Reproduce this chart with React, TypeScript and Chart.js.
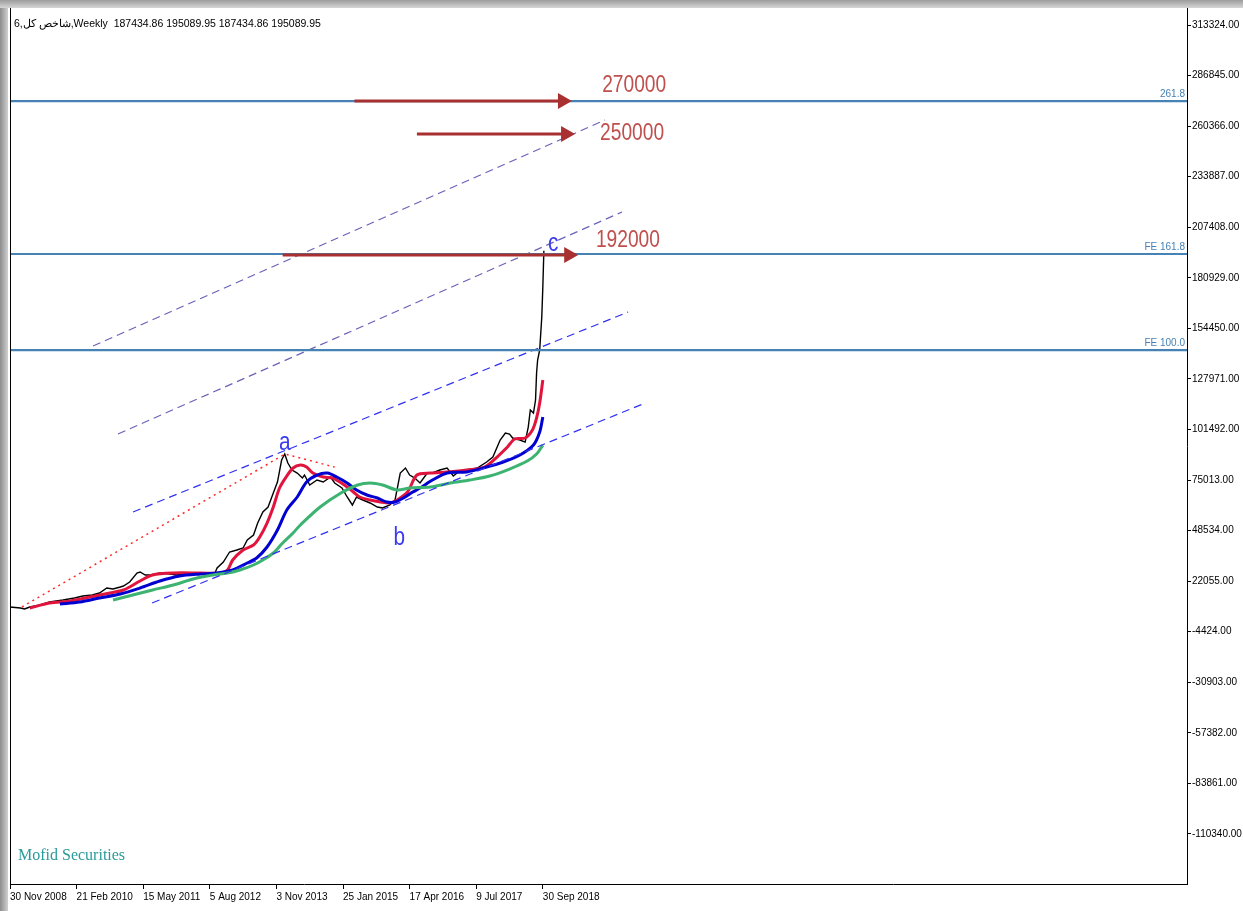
import React, { useEffect, useRef } from "react";
import { Chart, registerables } from "chart.js";
Chart.register(...registerables);

// ---------- text ----------
const TITLE = "شاخص کل,6,Weekly  187434.86 195089.95 187434.86 195089.95";
const WATERMARK = "Mofid Securities";

// ---------- axes ----------
const X_MIN = 0;
const X_MAX = 1131; // weeks since 30 Nov 2008
const Y_MIN = -136530;
const Y_MAX = 322230;
const xTickWeeks = [0, 64, 128, 192, 256, 320, 384, 448, 512];
const xTickLabels = ["30 Nov 2008", "21 Feb 2010", "15 May 2011", "5 Aug 2012", "3 Nov 2013", "25 Jan 2015", "17 Apr 2016", "9 Jul 2017", "30 Sep 2018"];
const yTickValues = [313324, 286845, 260366, 233887, 207408, 180929, 154450, 127971, 101492, 75013, 48534, 22055, -4424, -30903, -57382, -83861, -110340];

// ---------- price (weekly close) ----------
const priceWeeks = [0, 10, 14, 19, 29, 38, 51, 62, 70, 79, 86, 93, 99, 106, 109, 115, 122, 125, 130, 135, 144, 154, 160, 173, 183, 192, 197, 199, 205, 211, 218, 224, 228, 234, 238, 243, 248, 253, 257, 261, 264, 267, 271, 276, 281, 283, 288, 295, 301, 308, 312, 319, 324, 329, 333, 339, 346, 353, 358, 365, 370, 375, 380, 384, 389, 394, 401, 406, 413, 420, 426, 432, 439, 449, 458, 464, 471, 476, 480, 483, 490, 495, 498, 500, 503, 505, 506, 507, 509, 511, 512, 513];
const priceValues = [8540, 8010, 7490, 8540, 9580, 11150, 12200, 13250, 14300, 14820, 15870, 18490, 17960, 19010, 19530, 21630, 26340, 26870, 25300, 25300, 26340, 25820, 25300, 26340, 26340, 25820, 26340, 28960, 32100, 37340, 38390, 39430, 43620, 46240, 52520, 58280, 60900, 68230, 73990, 85510, 88650, 83940, 80270, 78700, 76080, 77650, 72420, 75040, 73990, 76610, 73470, 70850, 66140, 61950, 66140, 64570, 63000, 60900, 60380, 61950, 64570, 78700, 81320, 77650, 76080, 73470, 78700, 78700, 80270, 81320, 77130, 79750, 80270, 81320, 84460, 87080, 95980, 99650, 99120, 97030, 95980, 94930, 102790, 111690, 110120, 116930, 131070, 137880, 143120, 160400, 176000, 195090];

// ---------- moving averages ----------
const maFastWeeks = [19, 38, 58, 77, 96, 109, 125, 137, 157, 183, 202, 209, 214, 224, 234, 240, 247, 253, 259, 266, 272, 279, 285, 291, 301, 310, 317, 324, 330, 336, 346, 356, 365, 372, 382, 391, 404, 420, 439, 456, 468, 478, 485, 495, 502, 506, 509, 512];
const maFastValues = [8010, 10630, 11680, 13770, 15870, 17440, 22150, 25300, 26340, 26340, 26340, 27910, 33150, 38390, 41010, 45200, 52520, 60900, 70850, 77130, 81320, 82890, 81840, 78700, 76610, 76080, 73990, 71370, 68750, 66140, 64570, 63520, 63000, 64570, 68750, 77650, 78700, 79230, 80270, 81840, 87080, 92320, 96510, 97030, 101220, 107510, 115360, 127400];
const maMidWeeks = [48, 67, 86, 106, 125, 144, 163, 183, 199, 214, 228, 237, 247, 257, 266, 276, 285, 295, 305, 314, 324, 333, 343, 353, 362, 370, 378, 387, 394, 406, 420, 439, 458, 474, 490, 503, 509, 512];
const maMidValues = [10110, 11150, 13250, 15340, 18490, 22150, 24770, 25820, 26340, 27910, 31580, 34200, 39960, 48860, 59340, 66140, 73990, 77650, 78700, 76610, 73470, 69800, 67190, 65620, 63520, 63520, 65620, 68750, 70850, 75040, 78700, 79230, 81840, 84460, 88120, 93360, 100170, 108030];
const maSlowWeeks = [99, 118, 137, 157, 176, 195, 209, 221, 234, 243, 253, 262, 272, 279, 298, 318, 334, 346, 358, 372, 384, 404, 423, 442, 461, 480, 497, 506, 512];
const maSlowValues = [12200, 14820, 17440, 20060, 23200, 25300, 26340, 27910, 30530, 33150, 36820, 42050, 47290, 51480, 60900, 68230, 72420, 73470, 72420, 69800, 70850, 71370, 73470, 75040, 77130, 80790, 84980, 88650, 93360];

// ---------- channel / trend objects ----------
const channelLowerWeeks = [136.5, 608.3];
const channelLowerValues = [10630, 114850];
const channelMidWeeks = [118.2, 593.9];
const channelMidValues = [58290, 163030];
const channelUpper1Weeks = [103.8, 588.1];
const channelUpper1Values = [99140, 215400];
const channelUpper2Weeks = [79.8, 571.8];
const channelUpper2Values = [145220, 263580];
const zigzagWeeks = [11.5, 264.3, 312];
const zigzagValues = [8540, 88650, 81800];

// ---------- fibonacci levels ----------
const levelValues = [273500, 193400, 143100];
const levelLabels = ["261.8", "FE 161.8", "FE 100.0"];

// ---------- target arrows ----------
const arrowStartWeeks = [331, 391, 262];
const arrowEndWeeks = [540, 543, 546];
const arrowValues = [273500, 256200, 192900];
const targetTexts = ["270000", "250000", "192000"];
const targetWeeks = [569, 567, 563];
const targetValues = [281950, 256760, 200310];

// ---------- wave labels ----------
const waveTexts = ["a", "b", "c"];
const waveWeeks = [264, 374, 522];
const waveValues = [94420, 44670, 198640];

const zip = (xs: number[], ys: number[]) => xs.map((x, i) => ({ x, y: ys[i] }));

const FONT = '"Liberation Sans", Arial, sans-serif';

function drawNarrow(ctx: CanvasRenderingContext2D, text: string, px: number, py: number, size: number, color: string, sx: number, align: CanvasTextAlign) {
  ctx.save();
  ctx.translate(px, py);
  ctx.scale(sx, 1);
  ctx.font = `${size}px ${FONT}`;
  ctx.fillStyle = color;
  ctx.textAlign = align;
  ctx.textBaseline = "middle";
  ctx.fillText(text, 0, 0);
  ctx.restore();
}

const overlayPlugin = {
  id: "overlay",
  beforeDraw(chart: any) {
    const { ctx, width, height } = chart;
    ctx.save();
    ctx.fillStyle = "#ffffff";
    ctx.fillRect(0, 0, width, height);
    ctx.restore();
  },
  afterDatasetsDraw(chart: any) {
    const { ctx, chartArea: a, scales } = chart;
    const xs = scales.x;
    const ys = scales.y;
    ctx.save();
    // left frame line
    ctx.strokeStyle = "#000";
    ctx.lineWidth = 1;
    ctx.beginPath();
    ctx.moveTo(Math.round(a.left) + 0.5, a.top);
    ctx.lineTo(Math.round(a.left) + 0.5, a.bottom);
    ctx.stroke();

    // level labels
    ctx.font = `10px ${FONT}`;
    ctx.fillStyle = "#4682b4";
    ctx.textAlign = "right";
    ctx.textBaseline = "alphabetic";
    levelValues.forEach((v, i) => {
      ctx.fillText(levelLabels[i], a.right - 2, ys.getPixelForValue(v) - 4);
    });

    // arrows
    ctx.strokeStyle = "#a83030";
    ctx.fillStyle = "#a83030";
    ctx.lineWidth = 3;
    arrowValues.forEach((v, i) => {
      const x0 = xs.getPixelForValue(arrowStartWeeks[i]);
      const x1 = xs.getPixelForValue(arrowEndWeeks[i]);
      const yy = ys.getPixelForValue(v);
      ctx.beginPath();
      ctx.moveTo(x0, yy);
      ctx.lineTo(x1 - 12, yy);
      ctx.stroke();
      ctx.beginPath();
      ctx.moveTo(x1 - 14, yy - 8);
      ctx.lineTo(x1, yy);
      ctx.lineTo(x1 - 14, yy + 8);
      ctx.closePath();
      ctx.fill();
    });

    // target labels
    targetTexts.forEach((t, i) => {
      drawNarrow(ctx, t, xs.getPixelForValue(targetWeeks[i]), ys.getPixelForValue(targetValues[i]), 24, "#c0504d", 0.8, "left");
    });

    // wave labels
    waveTexts.forEach((t, i) => {
      drawNarrow(ctx, t, xs.getPixelForValue(waveWeeks[i]), ys.getPixelForValue(waveValues[i]), 26, "#3b3bf0", 0.8, "center");
    });

    // title
    ctx.font = `10.5px ${FONT}`;
    ctx.fillStyle = "#000";
    ctx.textAlign = "left";
    ctx.textBaseline = "alphabetic";
    ctx.fillText(TITLE, a.left + 4, 19);

    // watermark
    ctx.font = `16px "Liberation Serif", "Times New Roman", serif`;
    ctx.fillStyle = "#2a9a9a";
    ctx.fillText(WATERMARK, a.left + 8, a.bottom - 24);
    ctx.restore();
  },
};

export default function App() {
  const ref = useRef<HTMLCanvasElement>(null);
  useEffect(() => {
    document.body.style.margin = "0";
    const lineDs = (label: string, data: any[], color: string, width: number, extra: any = {}) => ({
      label,
      data,
      borderColor: color,
      backgroundColor: color,
      borderWidth: width,
      pointRadius: 0,
      fill: false,
      tension: 0,
      ...extra,
    });
    const datasets: any[] = [
      ...levelValues.map((v, i) => lineDs(levelLabels[i], [{ x: X_MIN, y: v }, { x: X_MAX, y: v }], "#4682b4", 2.2)),
      lineDs("ch-up2", zip(channelUpper2Weeks, channelUpper2Values), "#6a62b8", 1.2, { borderDash: [8, 5] }),
      lineDs("ch-up1", zip(channelUpper1Weeks, channelUpper1Values), "#6a62b8", 1.2, { borderDash: [8, 5] }),
      lineDs("ch-mid", zip(channelMidWeeks, channelMidValues), "#2f2ff5", 1.2, { borderDash: [8, 5] }),
      lineDs("ch-low", zip(channelLowerWeeks, channelLowerValues), "#2f2ff5", 1.2, { borderDash: [8, 5] }),
      lineDs("zigzag", zip(zigzagWeeks, zigzagValues), "#ff2a2a", 1.5, { borderDash: [2, 4] }),
      lineDs("ma-slow", zip(maSlowWeeks, maSlowValues), "#3cb371", 3, { tension: 0.3 }),
      lineDs("ma-mid", zip(maMidWeeks, maMidValues), "#0000d0", 3, { tension: 0.3 }),
      lineDs("ma-fast", zip(maFastWeeks, maFastValues), "#e0143c", 3, { tension: 0.3 }),
      lineDs("price", zip(priceWeeks, priceValues), "#000000", 1.4),
    ];
    const chart = new Chart(ref.current as HTMLCanvasElement, {
      type: "line",
      data: { datasets },
      options: {
        responsive: false,
        maintainAspectRatio: false,
        animation: false,
        devicePixelRatio: 1,
        parsing: false as any,
        normalized: true,
        layout: { padding: { left: 2, top: 0, right: 0, bottom: 0 } },
        plugins: { legend: { display: false }, tooltip: { enabled: false } },
        scales: {
          x: {
            type: "linear",
            position: "bottom",
            min: X_MIN,
            max: X_MAX,
            afterBuildTicks: (s: any) => {
              s.ticks = xTickWeeks.map((v) => ({ value: v }));
            },
            afterFit: (s: any) => {
              s.height = 27;
              s.paddingLeft = 0;
              s.paddingRight = 0;
            },
            ticks: {
              autoSkip: false,
              maxRotation: 0,
              minRotation: 0,
              align: "start",
              padding: 2,
              color: "#000",
              font: { family: FONT, size: 10 },
              callback: (v: any) => {
                const i = xTickWeeks.indexOf(Number(v));
                return i >= 0 ? xTickLabels[i] : "";
              },
            },
            grid: { drawOnChartArea: false, drawTicks: true, tickLength: 5, color: "#000" },
            border: { display: true, color: "#000" },
          },
          y: {
            type: "linear",
            position: "right",
            min: Y_MIN,
            max: Y_MAX,
            afterBuildTicks: (s: any) => {
              s.ticks = yTickValues.map((v) => ({ value: v }));
            },
            afterFit: (s: any) => {
              s.width = 56;
              s.paddingTop = 0;
              s.paddingBottom = 0;
            },
            ticks: {
              autoSkip: false,
              padding: 1,
              color: "#000",
              font: { family: FONT, size: 10 },
              callback: (v: any) => Number(v).toFixed(2),
            },
            grid: { drawOnChartArea: false, drawTicks: true, tickLength: 4, color: "#000" },
            border: { display: true, color: "#000" },
          },
        },
      },
      plugins: [overlayPlugin],
    } as any);
    return () => chart.destroy();
  }, []);

  return (
    <div style={{ position: "relative", width: 1243, height: 911, background: "#fff", overflow: "hidden" }}>
      <div style={{ position: "absolute", left: 0, top: 0, width: 8, height: 911, background: "linear-gradient(to right,#8c8c8c,#d0d0d0)" }} />
      <div style={{ position: "absolute", left: 0, top: 0, width: 1243, height: 8, background: "linear-gradient(to bottom,#9c9c9c,#d6d6d6)" }} />
      <canvas ref={ref} width={1235} height={903} style={{ position: "absolute", left: 8, top: 8, width: 1235, height: 903 }} />
    </div>
  );
}
